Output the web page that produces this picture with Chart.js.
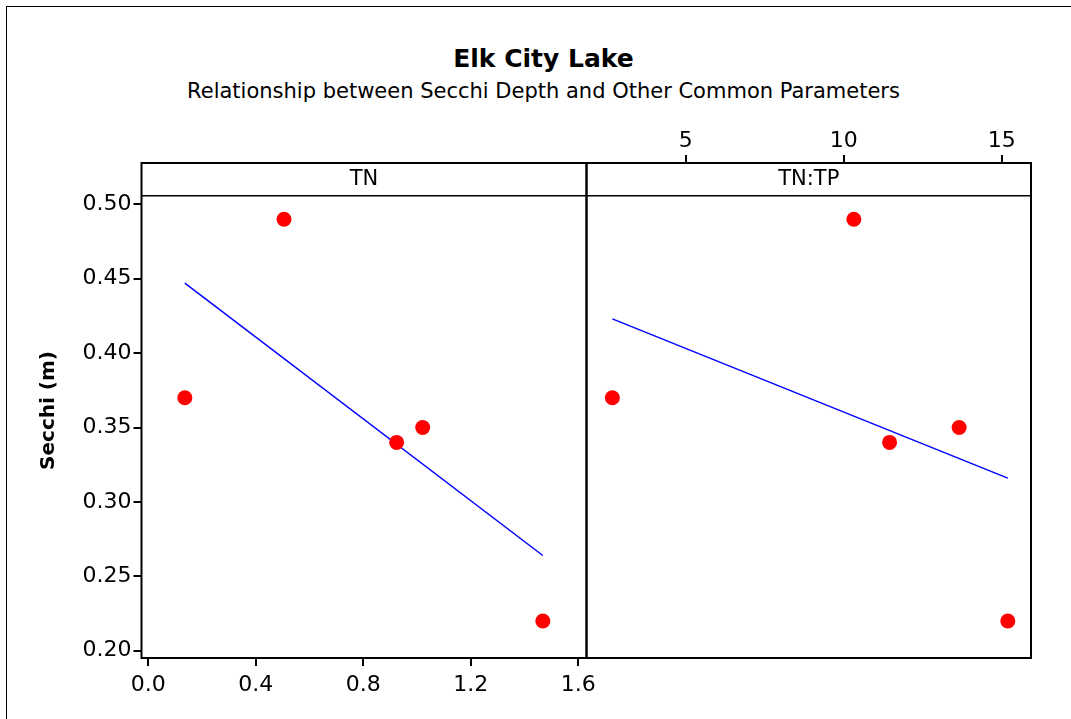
<!DOCTYPE html>
<html>
<head>
<meta charset="utf-8">
<script src="https://cdn.jsdelivr.net/npm/chart.js@4/dist/chart.umd.min.js"></script>
<style>
  body { margin: 0; width: 1071px; height: 719px; overflow: hidden; background: #fff; position: relative; font-family: "DejaVu Sans", sans-serif; color: #000; }
  #frame { position: absolute; left: 6px; top: 6px; width: 1200px; height: 900px; border-left: 1px solid #000; border-top: 1px solid #000; }
  #title { position: absolute; left: 0; width: 1087px; top: 44px; line-height: 30px; text-align: center; font-weight: bold; font-size: 25px; }
  #subtitle { position: absolute; left: 0; width: 1087px; top: 78px; line-height: 26px; text-align: center; font-size: 21px; }
  canvas { position: absolute; top: 0; }
  #left { left: 0; }
  #right { left: 560px; }
</style>
</head>
<body>
<div id="frame"></div>
<div id="title">Elk City Lake</div>
<div id="subtitle">Relationship between Secchi Depth and Other Common Parameters</div>
<canvas id="left" width="620" height="719"></canvas>
<canvas id="right" width="511" height="719"></canvas>
<script>
// panel names
const panels = ['TN', 'TN:TP'];

// Secchi depth (m) observations, shared by both panels
const secchi = [0.37, 0.49, 0.34, 0.35, 0.22];

// x values per panel
const tnValues = [0.136, 0.505, 0.924, 1.021, 1.468];
const tntpValues = [2.68, 10.32, 11.45, 13.65, 15.19];

// fitted lines (start, end)
const tnFitX = [0.136, 1.468];
const tnFitY = [0.447, 0.264];
const tntpFitX = [2.68, 15.19];
const tntpFitY = [0.423, 0.316];

// axis limits
const yMin = 0.1951, yMax = 0.5278;
const tnMin = -0.0253, tnMax = 1.6305;
const tntpMin = 1.862, tntpMax = 15.924;

Chart.defaults.font.family = '"DejaVu Sans", sans-serif';
Chart.defaults.color = '#000';

const pts = (xs, ys) => xs.map((x, i) => ({ x: x, y: ys[i] }));

// panel frame + strip header
const stripPlugin = {
    id: 'strip',
    afterDraw(chart, args, opts) {
        const ctx = chart.ctx;
        const a = chart.chartArea;
        ctx.save();
        ctx.strokeStyle = '#000';
        ctx.lineWidth = 2;
        ctx.strokeRect(a.left, a.top, a.right - a.left, a.bottom - a.top);
        ctx.lineWidth = 1.5;
        ctx.beginPath();
        ctx.moveTo(a.left, a.top + 32.7);
        ctx.lineTo(a.right, a.top + 32.7);
        ctx.stroke();
        ctx.fillStyle = '#000';
        ctx.font = '21px "DejaVu Sans"';
        ctx.textAlign = 'center';
        ctx.textBaseline = 'middle';
        ctx.fillText(opts.label, (a.left + a.right) / 2, a.top + 17);
        ctx.restore();
    }
};

function datasets(xs, fitX, fitY) {
    return [
        {
            data: pts(xs, secchi),
            backgroundColor: '#ff0000',
            borderWidth: 0,
            pointRadius: 7.5,
            order: 1
        },
        {
            data: pts(fitX, fitY),
            showLine: true,
            borderColor: '#0000ff',
            borderWidth: 1.5,
            pointRadius: 0,
            fill: false,
            order: 2
        }
    ];
}

const yLeft = {
    min: yMin,
    max: yMax,
    ticks: {
        stepSize: 0.05,
        includeBounds: false,
        callback: v => v.toFixed(2),
        font: { size: 22 },
        padding: 2
    },
    grid: { drawOnChartArea: false, color: '#000', tickLength: 8, lineWidth: 2 },
    border: { display: false },
    title: {
        display: true,
        text: 'Secchi (m)',
        font: { size: 20, weight: 'bold' },
        padding: { top: 37, bottom: 0 }
    },
    afterFit(s) { s.width = 141.5; }
};

const yRight = { min: yMin, max: yMax, display: false };

new Chart(document.getElementById('left'), {
    type: 'scatter',
    data: { datasets: datasets(tnValues, tnFitX, tnFitY) },
    options: {
        responsive: false,
        animation: false,
        layout: { padding: { top: 163, right: 33.5, left: 0, bottom: 0 } },
        plugins: { legend: { display: false }, tooltip: { enabled: false }, strip: { label: panels[0] } },
        scales: {
            x: {
                type: 'linear',
                position: 'bottom',
                min: tnMin,
                max: tnMax,
                ticks: {
                    stepSize: 0.4,
                    includeBounds: false,
                    callback: v => v.toFixed(1),
                    font: { size: 22 },
                    padding: 6,
                    maxRotation: 0,
                    autoSkip: false
                },
                grid: { drawOnChartArea: false, color: '#000', tickLength: 8, lineWidth: 2 },
                border: { display: false },
                afterFit(s) { s.height = 61; }
            },
            y: yLeft
        }
    },
    plugins: [stripPlugin]
});

new Chart(document.getElementById('right'), {
    type: 'scatter',
    data: { datasets: datasets(tntpValues, tntpFitX, tntpFitY) },
    options: {
        responsive: false,
        animation: false,
        layout: { padding: { top: 0, right: 40, left: 26.5, bottom: 61 } },
        plugins: { legend: { display: false }, tooltip: { enabled: false }, strip: { label: panels[1] } },
        scales: {
            x: {
                type: 'linear',
                position: 'top',
                min: tntpMin,
                max: tntpMax,
                ticks: {
                    stepSize: 5,
                    includeBounds: false,
                    font: { size: 22 },
                    padding: 1,
                    maxRotation: 0,
                    autoSkip: false
                },
                grid: { drawOnChartArea: false, color: '#000', tickLength: 8, lineWidth: 2 },
                border: { display: false },
                afterFit(s) { s.height = 163; }
            },
            y: yRight
        }
    },
    plugins: [stripPlugin]
});
</script>
</body>
</html>
